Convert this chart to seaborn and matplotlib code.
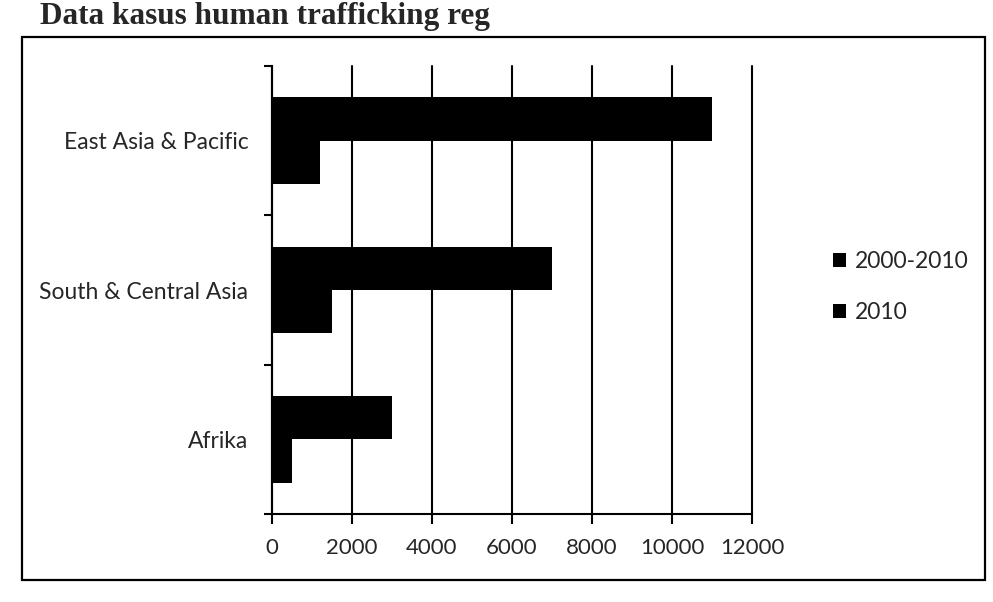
import matplotlib
matplotlib.use("Agg")
import matplotlib.pyplot as plt
from matplotlib.patches import Rectangle, Patch
import seaborn as sns
import pandas as pd

# Human trafficking cases by region
regions = ["East Asia & Pacific", "South & Central Asia", "Afrika"]
cases_2000_2010 = [11000, 7000, 3000]
cases_2010 = [1200, 1500, 500]
periods = ["2000-2010", "2010"]
x_ticks = [0, 2000, 4000, 6000, 8000, 10000, 12000]
title = "Data kasus human trafficking reg"

df = pd.DataFrame({
    "region": regions * 2,
    "cases": cases_2000_2010 + cases_2010,
    "period": [periods[0]] * len(regions) + [periods[1]] * len(regions),
})

sns.set_theme(style="white")
plt.rcParams["font.family"] = ["Lato", "DejaVu Sans"]

W, H = 993, 602
fig = plt.figure(figsize=(W / 100, H / 100), dpi=100)
fig.patch.set_facecolor("white")

# plot area in pixel terms
left, right, top, bottom = 272, 752, 66, 514
ax = fig.add_axes([left / W, 1 - bottom / H, (right - left) / W, (bottom - top) / H])

sns.barplot(data=df, y="region", x="cases", hue="period", order=regions,
            hue_order=periods, palette=["black", "black"], orient="h",
            width=0.58, saturation=1, ax=ax, legend=False, zorder=3,
            linewidth=0, edgecolor="black")

ax.set_xlim(0, 12000)
ax.set_ylim(2.5, -0.5)
ax.set_xticks(x_ticks)
ax.set_xticklabels([str(v) for v in x_ticks], fontsize=16)
ax.xaxis.grid(True, color="black", linewidth=1.5, zorder=0)
ax.set_axisbelow(True)
for gl in ax.get_xgridlines():
    gl.set_clip_on(False)
ax.set_xlabel("")
ax.set_ylabel("")

for side in ("top", "right"):
    ax.spines[side].set_visible(False)
for side in ("left", "bottom"):
    ax.spines[side].set_color("black")
    ax.spines[side].set_linewidth(1.5)

ax.tick_params(axis="x", direction="out", length=7, width=1.5, color="black",
               pad=10, bottom=True)
ax.tick_params(axis="y", which="major", length=0, pad=17, labelsize=16.5)
ax.set_yticks([-0.5, 0.5, 1.5, 2.5], minor=True)
ax.tick_params(axis="y", which="minor", direction="out", length=6, width=1.5,
               color="black", left=True)

handles = [Patch(facecolor="black", edgecolor="none", label=p) for p in periods]
fig.legend(handles=handles, loc="center left",
           bbox_to_anchor=(812 / W, 1 - 287 / H), frameon=False,
           fontsize=16.5, handlelength=0.6, handleheight=0.6,
           handletextpad=0.35, labelspacing=1.3)

# outer chart frame
fig.patches.append(Rectangle((22 / W, 1 - 580 / H), (985 - 22) / W, (580 - 37) / H,
                             transform=fig.transFigure, fill=False,
                             edgecolor="black", linewidth=1.6))

fig.text(40 / W, 1 - 24 / H, title, fontsize=22.5, fontweight="bold",
         family=["Liberation Serif", "DejaVu Serif"], va="baseline", ha="left")

fig.savefig("out.png", dpi=100)
